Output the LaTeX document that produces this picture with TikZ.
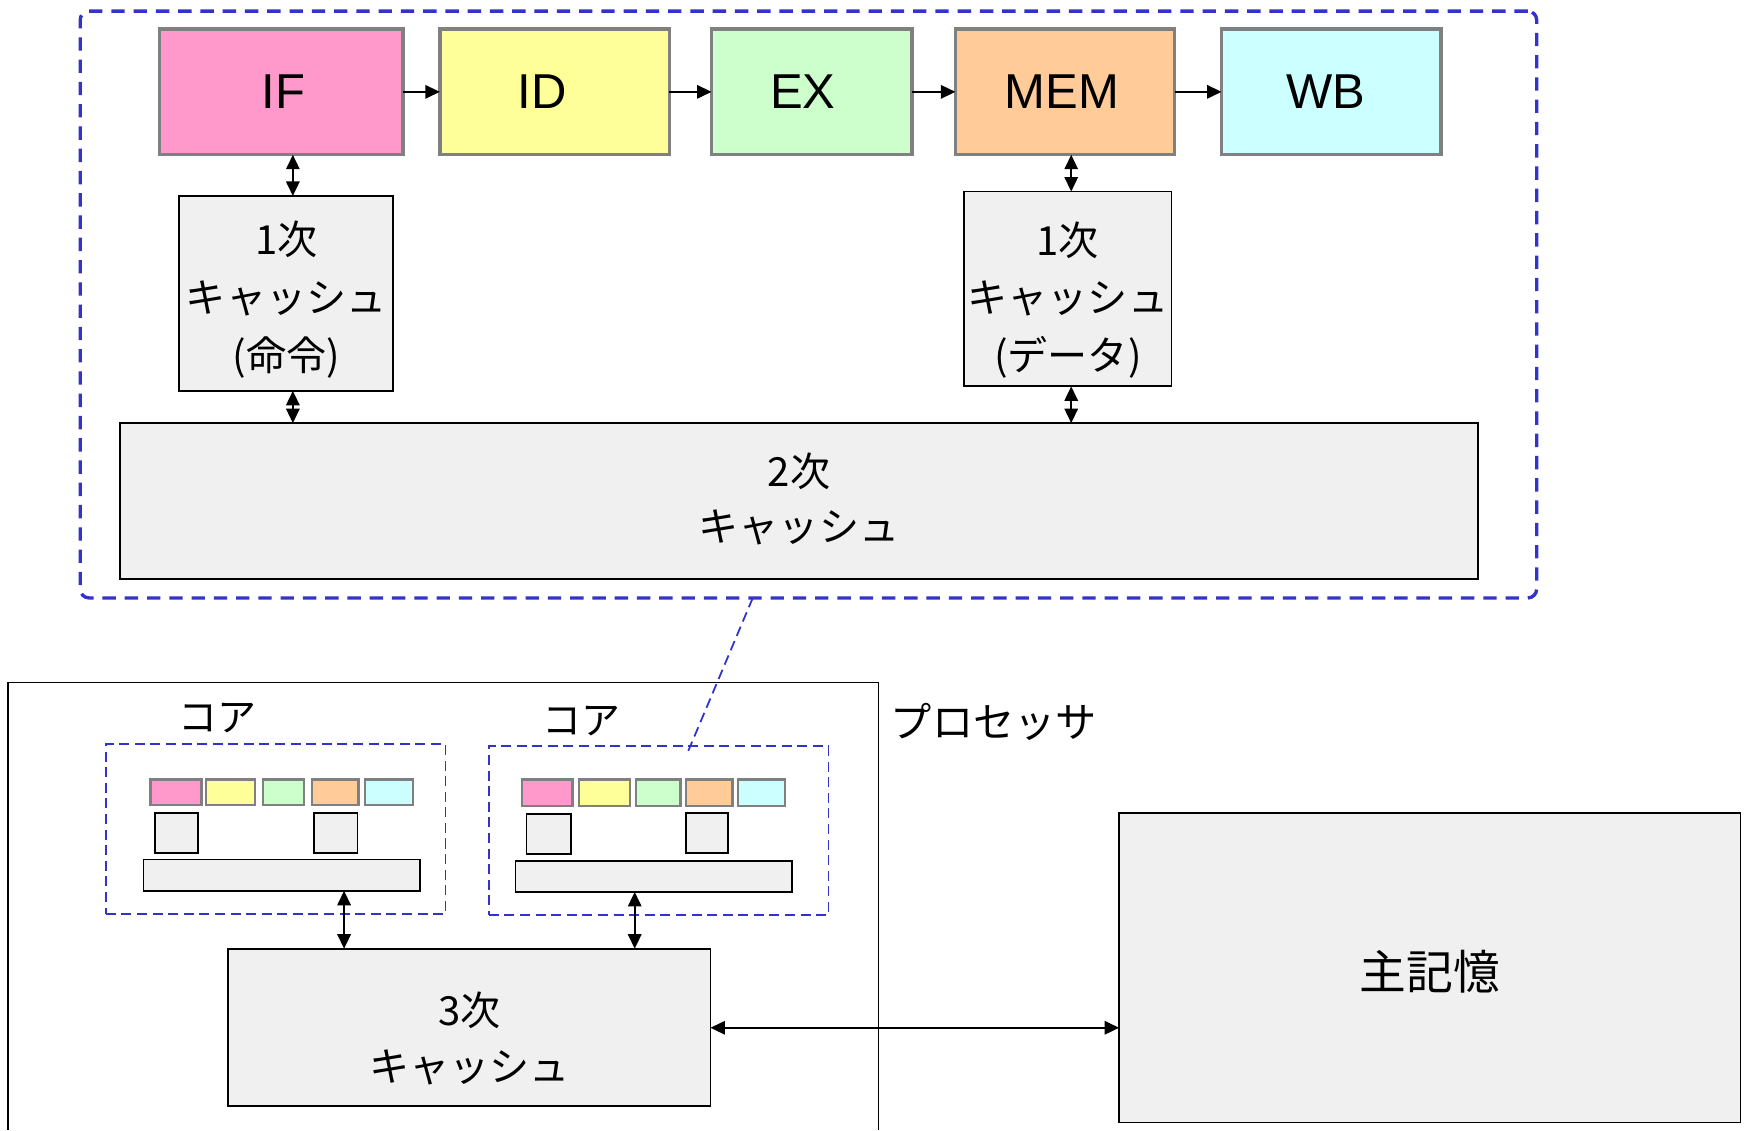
\documentclass[tikz,border=0pt]{standalone}
\usepackage{fontspec}
\setmainfont{Liberation Sans}
\newfontfamily\jp{Noto Sans CJK JP}
\usetikzlibrary{arrows.meta}
\definecolor{cIF}{HTML}{FF99CC}
\definecolor{cID}{HTML}{FFFF99}
\definecolor{cEX}{HTML}{CCFFCC}
\definecolor{cMEM}{HTML}{FFCC99}
\definecolor{cWB}{HTML}{CCFFFF}
\definecolor{cbox}{HTML}{F0F0F0}
\definecolor{cborder}{HTML}{808080}
\definecolor{cblue}{HTML}{3333CC}
\newcommand\boxnode[7]{\node[#1, minimum width={(#4-#2)*0.5pt}, minimum height={(#5-#3)*0.5pt}] (#6) at ({(#2+#4)/2},{(#3+#5)/2}) {#7};}
\begin{document}
\begin{tikzpicture}[x=0.5pt,y=-0.5pt,
  every node/.style={inner sep=0pt, outer sep=0pt},
  stage/.style={draw=cborder, line width=1.5pt, font=\fontsize{22}{24}\selectfont},
  ministage/.style={draw=cborder, line width=1.1pt},
  cachebox/.style={draw=black, line width=0.8pt, fill=cbox},
  minicache/.style={draw=black, line width=0.7pt, fill=cbox},
  bigcore/.style={draw=cblue, line width=1.5pt, dash pattern=on 6pt off 4pt, rounded corners=4pt},
  smallcore/.style={draw=cblue, line width=0.8pt, dash pattern=on 4.5pt off 2.5pt},
  tip/.tip={Triangle[length=6.5pt,width=6pt]},
  arr/.style={line width=0.9pt, -tip},
  darr/.style={line width=0.9pt, tip-tip},
  jtext/.style={font=\jp\fontsize{18}{26}\selectfont, align=center},
  jtextb/.style={font=\jp\fontsize{18}{25}\selectfont, align=center}
]
\useasboundingbox (0,0) rectangle (1568,1015);

% big core detail
\boxnode{bigcore}{72}{10}{1380}{537}{core}{}
\boxnode{stage,fill=cIF}{143}{26}{362}{139}{IF}{\kern2pt IF}
\boxnode{stage,fill=cID}{395}{26}{601}{139}{ID}{\kern-11pt ID}
\boxnode{stage,fill=cEX}{639}{26}{819}{139}{EX}{\kern-8pt EX}
\boxnode{stage,fill=cMEM}{858}{26}{1055}{139}{MEM}{\kern-3pt MEM}
\boxnode{stage,fill=cWB}{1097}{26}{1294}{139}{WB}{\kern-5pt WB}
\draw[arr] (IF.east) -- (ID.west);
\draw[arr] (ID.east) -- (EX.west);
\draw[arr] (EX.east) -- (MEM.west);
\draw[arr] (MEM.east) -- (WB.west);

\boxnode{cachebox}{161}{176}{353}{351}{L1i}{}
\node[jtext, yshift=-2.8pt] (L1it) at (L1i) {1次\\キャッシュ\\(命令)};
\boxnode{cachebox}{866}{172}{1052}{347}{L1d}{}
\node[jtext, yshift=-5pt] (L1dt) at (L1d) {1次\\キャッシュ\\(データ)};
\boxnode{cachebox}{108}{380}{1327}{520}{L2}{}
\node[jtextb, yshift=1pt] (L2t) at (L2) {2次\\キャッシュ};

\coordinate (xa) at (263,0);
\coordinate (xb) at (962,0);
\draw[darr] (IF.south -| xa) -- (L1i.north -| xa);
\draw[darr] (L1i.south -| xa) -- (L2.north -| xa);
\draw[darr] (MEM.south -| xb) -- (L1d.north -| xb);
\draw[darr] (L1d.south -| xb) -- (L2.north -| xb);

% processor
\coordinate (p1) at (7,1015);
\coordinate (p2) at (7,613);
\coordinate (p3) at (789,613);
\coordinate (p4) at (789,1015);
\draw[line width=0.8pt] (p1) -- (p2) -- (p3) -- (p4);
\node[anchor=west, font=\jp\fontsize{18.5}{20}\selectfont] (proc) at (800,648) {プロセッサ};

% core 1
\node[font=\jp\fontsize{17.5}{20}\selectfont] (lab1) at (195,645) {コア};
\boxnode{smallcore}{95}{668}{400}{821}{c1}{}
\boxnode{ministage,fill=cIF}{135}{700}{181}{723}{c1a}{}
\boxnode{ministage,fill=cID}{185}{700}{229}{723}{c1b}{}
\boxnode{ministage,fill=cEX}{236}{700}{273}{723}{c1c}{}
\boxnode{ministage,fill=cMEM}{280}{700}{322}{723}{c1d}{}
\boxnode{ministage,fill=cWB}{328}{700}{371}{723}{c1e}{}
\boxnode{minicache}{139}{730}{178}{766}{c1i}{}
\boxnode{minicache}{282}{730}{321}{766}{c1m}{}
\boxnode{minicache}{129}{772}{377}{800}{c1L2}{}

% core 2
\node[font=\jp\fontsize{17.5}{20}\selectfont] (lab2) at (522,648) {コア};
\boxnode{smallcore}{439}{670}{744}{822}{c2}{}
\boxnode{ministage,fill=cIF}{469}{700}{514}{724}{c2a}{}
\boxnode{ministage,fill=cID}{520}{700}{566}{724}{c2b}{}
\boxnode{ministage,fill=cEX}{571}{700}{611}{724}{c2c}{}
\boxnode{ministage,fill=cMEM}{616}{700}{658}{724}{c2d}{}
\boxnode{ministage,fill=cWB}{663}{700}{705}{724}{c2e}{}
\boxnode{minicache}{473}{731}{513}{767}{c2i}{}
\boxnode{minicache}{616}{730}{654}{766}{c2m}{}
\boxnode{minicache}{463}{773}{711}{801}{c2L2}{}

% zoom link
\coordinate (zx) at (676,0);
\coordinate (lk) at (617,677);
\draw[smallcore] (core.south -| zx) -- (lk);

% L3 and memory
\boxnode{cachebox}{205}{852}{638}{993}{L3}{}
\node[jtextb, yshift=-5pt] (L3t) at (L3) {3次\\キャッシュ};
\boxnode{cachebox}{1005}{730}{1563}{1008}{MM}{}
\node[font=\jp\fontsize{21}{24}\selectfont, yshift=-2pt] (MMt) at (MM) {主記憶};
\coordinate (xc) at (309,0);
\coordinate (xd) at (570,0);
\coordinate (ym) at (0,923);
\draw[darr] (c1L2.south -| xc) -- (L3.north -| xc);
\draw[darr] (c2L2.south -| xd) -- (L3.north -| xd);
\draw[darr] (L3.east |- ym) -- (MM.west |- ym);
\end{tikzpicture}
\end{document}
